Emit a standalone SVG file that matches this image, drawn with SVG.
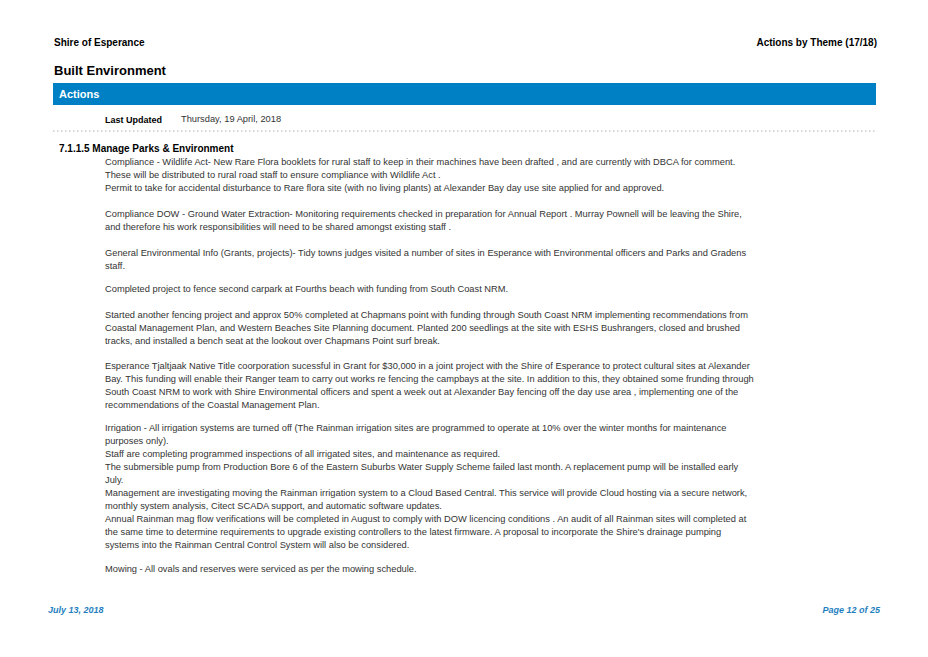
<svg xmlns="http://www.w3.org/2000/svg" width="928" height="657" viewBox="0 0 928 657">
<style>
.h{font-family:"Liberation Sans",Arial,sans-serif;font-weight:bold;fill:#000}
.b{font-family:"Liberation Sans",Arial,sans-serif;font-size:9.3px;fill:#333}
.f{font-family:"Liberation Sans",Arial,sans-serif;font-size:9px;font-weight:bold;font-style:italic;fill:#1f7fc0}
</style>
<rect width="928" height="657" fill="#fff"/>
<text class="h" x="54" y="46" font-size="10">Shire of Esperance</text>
<text class="h" x="877" y="46" font-size="10" text-anchor="end">Actions by Theme  (17/18)</text>
<text class="h" x="54" y="75" font-size="13">Built Environment</text>
<rect x="53" y="83" width="823" height="22" fill="#0080c4"/>
<text x="59" y="98" font-family="Liberation Sans,Arial,sans-serif" font-weight="bold" font-size="11" fill="#fff">Actions</text>
<text class="h" x="105" y="123" font-size="9">Last Updated</text>
<text class="b" x="181" y="122">Thursday, 19 April, 2018</text>
<line x1="53" y1="131" x2="876" y2="131" stroke="#999" stroke-width="0.8" stroke-dasharray="1.5,2.5"/>
<text class="h" x="59" y="152" font-size="10">7.1.1.5  Manage Parks &amp; Environment</text>
<g class="b">
<text x="105" y="165">Compliance - Wildlife Act- New Rare Flora booklets for rural staff to keep in their machines have been drafted , and are currently with DBCA for comment.</text>
<text x="105" y="178">These will be distributed to rural road staff to ensure compliance with Wildlife Act .</text>
<text x="105" y="191">Permit to take for accidental disturbance to Rare flora site (with no living plants)  at Alexander Bay day use site applied for and approved.</text>
<text x="105" y="217">Compliance DOW - Ground Water Extraction- Monitoring requirements checked in preparation for Annual Report . Murray Pownell will be leaving the Shire,</text>
<text x="105" y="230">and therefore his work responsibilities will need to be shared amongst existing staff .</text>
<text x="105" y="256">General Environmental Info (Grants, projects)- Tidy towns judges visited a number of sites in Esperance with Environmental officers and Parks and Gradens</text>
<text x="105" y="269">staff.</text>
<text x="105" y="292">Completed project to fence second carpark at Fourths beach with funding from South Coast NRM.</text>
<text x="105" y="318">Started another fencing project and approx 50% completed at Chapmans point with funding through South Coast NRM implementing recommendations from</text>
<text x="105" y="331">Coastal Management Plan, and Western Beaches Site Planning document.  Planted 200 seedlings at the site with ESHS Bushrangers, closed and brushed</text>
<text x="105" y="344">tracks, and installed a bench seat at the lookout over Chapmans Point surf break.</text>
<text x="105" y="369">Esperance Tjaltjaak Native Title coorporation sucessful in Grant for $30,000 in a joint project with the Shire of Esperance to protect cultural sites at Alexander</text>
<text x="105" y="382">Bay. This funding will enable their Ranger team to carry out works re fencing the campbays at the site. In addition to this, they obtained some frunding through</text>
<text x="105" y="395">South Coast NRM to work with Shire Environmental officers and spent a week out at Alexander Bay fencing off the day use area , implementing one of the</text>
<text x="105" y="408">recommendations of the Coastal Management Plan.</text>
<text x="105" y="431">Irrigation - All irrigation systems are turned off (The Rainman irrigation sites are programmed to operate at 10% over the winter months for maintenance</text>
<text x="105" y="444">purposes only).</text>
<text x="105" y="457">Staff are completing programmed inspections of all irrigated sites, and maintenance as required.</text>
<text x="105" y="470">The submersible pump from Production Bore 6 of the Eastern Suburbs Water Supply Scheme failed last month. A replacement pump will be installed early</text>
<text x="105" y="483">July.</text>
<text x="105" y="496">Management are investigating moving the Rainman irrigation system to a Cloud Based Central. This service will provide Cloud hosting via a secure network,</text>
<text x="105" y="509">monthly system analysis, Citect SCADA support, and automatic software updates.</text>
<text x="105" y="522">Annual Rainman mag flow verifications will be completed in August to comply with DOW licencing conditions . An audit of all Rainman sites will completed at</text>
<text x="105" y="535">the same time to determine requirements to upgrade existing controllers to the latest firmware.  A proposal to incorporate the Shire's drainage pumping</text>
<text x="105" y="548">systems into the Rainman Central Control System will also be considered.</text>
<text x="105" y="572">Mowing - All ovals and reserves were serviced as per the mowing schedule.</text>
</g>
<text class="f" x="48" y="613">July 13, 2018</text>
<text class="f" x="880" y="613" text-anchor="end">Page 12 of 25</text>
</svg>
